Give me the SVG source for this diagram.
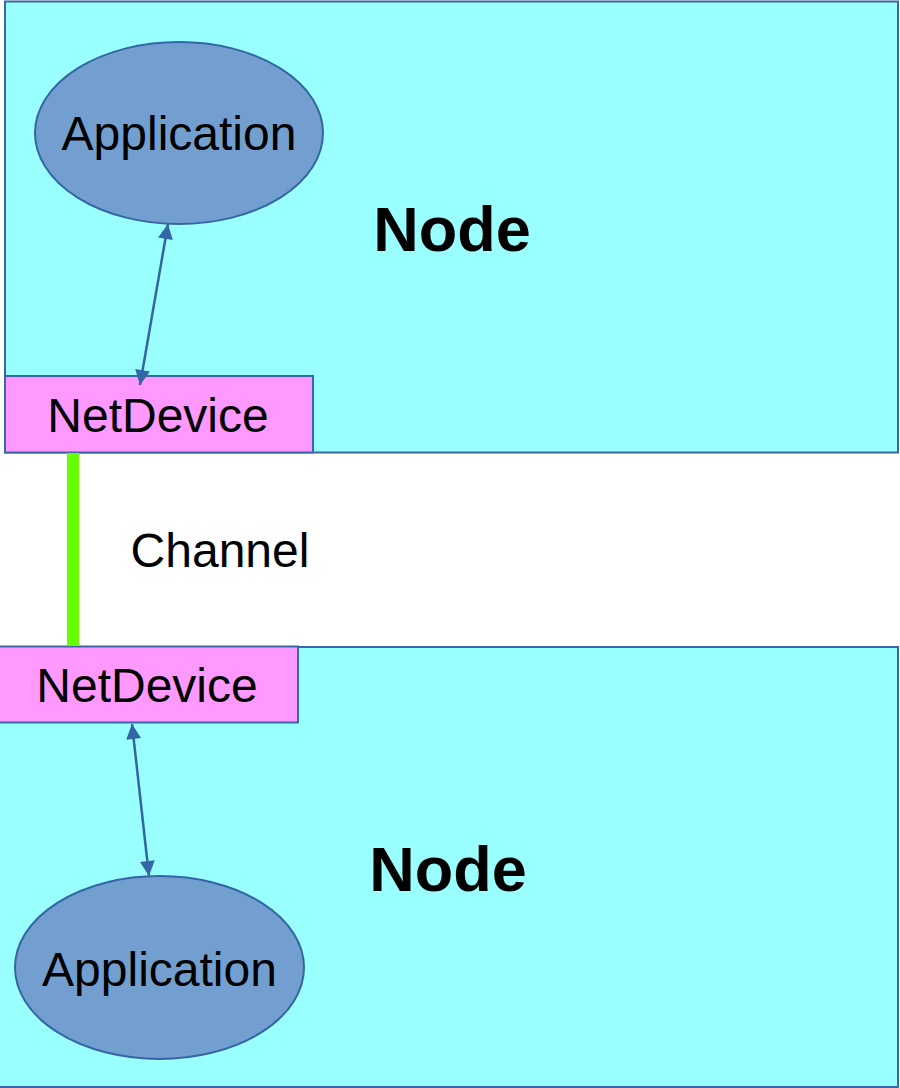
<svg xmlns="http://www.w3.org/2000/svg" width="900" height="1088" viewBox="0 0 900 1088">
<style>
.node{fill:#99FFFF;stroke:#3A67A8;stroke-width:2}
.app{fill:#729FCF;stroke:#3465A4;stroke-width:2}
.dev{fill:#FF99FF;stroke:#3A67A8;stroke-width:2}
.t{font-family:"Liberation Sans",Arial,sans-serif;font-size:48px;fill:#000;text-anchor:middle}
.b{font-family:"Liberation Sans",Arial,sans-serif;font-size:63px;font-weight:bold;fill:#000;text-anchor:middle}
.arr{stroke:#3465A4;stroke-width:2.5;fill:none;marker-start:url(#ah);marker-end:url(#ah)}
</style>
<defs>
<marker id="ah" viewBox="0 0 10 10" refX="10" refY="5" markerWidth="17" markerHeight="15" markerUnits="userSpaceOnUse" orient="auto-start-reverse">
<path d="M0,0 L10,5 L0,10 Z" fill="#3465A4"/>
</marker>
</defs>
<g id="node1">
<rect class="node" x="5" y="1.5" width="893" height="451"/>
<text class="b" x="452" y="251">Node</text>
</g>
<g id="node2">
<rect class="node" x="-2" y="647" width="900" height="440"/>
<text class="b" x="448" y="891">Node</text>
</g>
<g id="app1">
<ellipse class="app" cx="179" cy="133" rx="144" ry="91"/>
<text class="t" x="179" y="150">Application</text>
</g>
<g id="app2">
<ellipse class="app" cx="159.5" cy="967.5" rx="144.5" ry="91.5"/>
<text class="t" x="159.5" y="986">Application</text>
</g>
<g id="dev1">
<rect class="dev" x="5" y="376" width="308" height="76.5"/>
<text class="t" x="158" y="432">NetDevice</text>
</g>
<g id="dev2">
<rect class="dev" x="-2" y="646.5" width="300" height="76"/>
<text class="t" x="147" y="702">NetDevice</text>
</g>
<g id="connectors">
<line x1="73" y1="453" x2="73" y2="646" stroke="#66FF00" stroke-width="12"/>
<line class="arr" x1="168" y1="224" x2="140" y2="385"/>
<line class="arr" x1="132" y1="724" x2="149" y2="876"/>
</g>
<text class="t" x="220" y="567">Channel</text>
</svg>
